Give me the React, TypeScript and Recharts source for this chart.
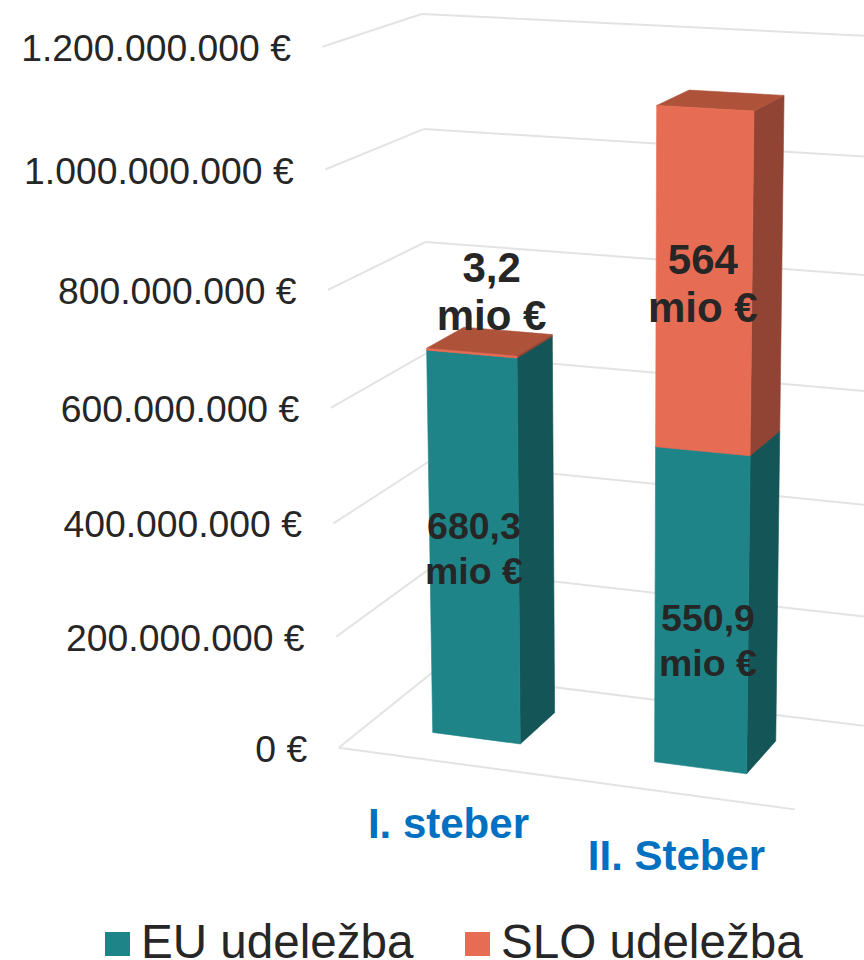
import React from 'react';
import { BarChart, Bar, XAxis, YAxis, CartesianGrid, Legend, LabelList } from 'recharts';

const categories = ['I. steber', 'II. Steber'];
const euValues = [680300000, 550900000];
const sloValues = [3200000, 564000000];
const yTicks = [0, 200000000, 400000000, 600000000, 800000000, 1000000000, 1200000000];
const seriesNames = { eu: 'EU udeležba', slo: 'SLO udeležba' };

const data = categories.map((name, i) => ({ name, eu: euValues[i], slo: sloValues[i] }));

const W = 864, H = 960;
const AXIS_SIZE = 1;
const M = { left: 99, right: 100, top: 100, bottom: 99 };
const PLOT_LEFT = M.left + AXIS_SIZE;
const PW = W - PLOT_LEFT - M.right, PH = H - M.top - M.bottom - AXIS_SIZE;
const FRONT = 0.3, BACK = 0.7;

const toX = (px: number) => (px - PLOT_LEFT) / PW;
const toV = (py: number) => (M.top + PH - py) / PH;

// Perspective of the 3D box: plot fraction (X along categories, V along values, D in depth) to the page
function project(X: number, V: number, D: number) {
  const w = 1 - 0.05 * X - 0.04267 * V + 0.06747 * D;
  return {
    x: (338.7 + 416.6 * X - 30.06 * V + 123.51 * D + 6.6 * X * V) / w,
    y: (747.7 + 21.2 * X - 703 * V - 30.36 * D) / w + 12 * V * (1 - V),
  };
}
const pts = (list: number[][]) =>
  list.map(([X, V, D]) => { const p = project(X, V, D); return `${p.x},${p.y}`; }).join(' ');

const GRID = '#e3e3e3';
const FACES: Record<string, { front: string; side: string; top: string }> = {
  eu: { front: '#1f8488', side: '#145558', top: '#125053' },
  slo: { front: '#e76c54', side: '#924434', top: '#ae5339' },
};

const Box = (series: string) => (props: any) => {
  const { x, y, width, height } = props;
  const X0 = toX(x), X1 = toX(x + width);
  const V1 = toV(y), V0 = toV(y + height);
  const f = FACES[series];
  return (
    <g strokeWidth={0.6} strokeLinejoin="round">
      <polygon fill={f.side} stroke={f.side} points={pts([[X1, V0, FRONT], [X1, V0, BACK], [X1, V1, BACK], [X1, V1, FRONT]])} />
      <polygon fill={f.top} stroke={f.top} points={pts([[X0, V1, FRONT], [X1, V1, FRONT], [X1, V1, BACK], [X0, V1, BACK]])} />
      <polygon fill={f.front} stroke={f.front} points={pts([[X0, V0, FRONT], [X1, V0, FRONT], [X1, V1, FRONT], [X0, V1, FRONT]])} />
    </g>
  );
};

const LABEL_STYLE: Record<string, { size: number; gap: number; shift: number[][] }> = {
  eu: { size: 37.5, gap: 22.5, shift: [[0, -1], [6.5, 28]] },
  slo: { size: 42, gap: 24, shift: [[20, -62], [-1, 0.5]] },
};
const mio = (v: number) => String(Math.round(v / 100000) / 10).replace('.', ',');

const ValueLabel = (series: string) => (props: any) => {
  const { value, index } = props;
  const box = props.viewBox ?? props;
  const { x, y, width, height } = box;
  const c = project(toX(x + width / 2), toV(y + height / 2), FRONT);
  const s = LABEL_STYLE[series];
  const [dx, dy] = s.shift[index ?? 0];
  const common = {
    x: c.x + dx, textAnchor: 'middle' as const, fontFamily: '"Liberation Sans", Arial, sans-serif',
    fontWeight: 700, fontSize: s.size, fill: '#262626',
  };
  const base = c.y + dy + s.size * 0.36;
  return (
    <g>
      <text {...common} y={base - s.gap}>{mio(Number(value))}</text>
      <text {...common} y={base + s.gap}>mio €</text>
    </g>
  );
};

const euro = (v: number) => String(v).replace(/\B(?=(\d{3})+$)/g, '.') + ' €';

const YTick = (props: any) => {
  const V = toV(props.y);
  const p = project(0, V, 0);
  return (
    <text x={p.x - 31.5} y={p.y + 14} textAnchor="end" fontFamily='"Liberation Sans", Arial, sans-serif' fontSize={37.3} fill="#262626">
      {euro(props.payload.value)}
    </text>
  );
};

const XTick = (props: any) => {
  const X = toX(props.x);
  const p = project(X, 0, 0);
  return (
    <text x={p.x} y={p.y + 74 + 4 * X} textAnchor="middle" fontFamily='"Liberation Sans", Arial, sans-serif' fontWeight={700} fontSize={42} fill="#0070c0">
      {props.payload.value}
    </text>
  );
};

const GridLine = (props: any) => {
  const V = toV(props.y1);
  const line = (a: number[], b: number[]) => (
    <polyline points={pts([a, b])} fill="none" stroke={GRID} strokeWidth={2} />
  );
  return (
    <g key={props.key}>
      {line([0, V, 0], [0, V, 1])}
      {line([0, V, 1], [1, V, 1])}
      {Math.abs(V) < 1e-6 ? line([0, V, 0], [1, V, 0]) : null}
    </g>
  );
};

const LEGEND_LEFT = [105, 465];
const LegendBlock = (props: any) => (
  <div style={{ position: 'relative', height: 0 }}>
    {(props.payload ?? []).map((item: any, i: number) => (
      <React.Fragment key={item.value}>
        <div style={{ position: 'absolute', left: LEGEND_LEFT[i], top: 932, width: 25, height: 24, background: item.color }} />
        <div style={{
          position: 'absolute', left: LEGEND_LEFT[i] + 36, top: 918, fontFamily: '"Liberation Sans", Arial, sans-serif',
          fontSize: 47.6, lineHeight: '47px', color: '#262626', whiteSpace: 'nowrap',
        }}>{item.value}</div>
      </React.Fragment>
    ))}
  </div>
);

export default function App() {
  return (
    <div style={{ position: 'absolute', left: 0, top: 0, width: W, height: H, overflow: 'hidden', background: '#fff' }}>
      <BarChart width={W} height={H} data={data} margin={M} barCategoryGap="30%">
        <CartesianGrid vertical={false} horizontal={GridLine as any} />
        <XAxis dataKey="name" height={AXIS_SIZE} axisLine={false} tickLine={false} interval={0} tick={XTick as any} />
        <YAxis width={AXIS_SIZE} domain={[0, 1200000000]} ticks={yTicks} axisLine={false} tickLine={false} interval={0} tick={YTick as any} />
        <Legend
          content={LegendBlock as any}
          wrapperStyle={{ position: 'absolute', left: 0, top: 0, bottom: 'auto', width: W, height: 0 }}
        />
        <Bar dataKey="eu" name={seriesNames.eu} stackId="a" fill={FACES.eu.front} isAnimationActive={false} shape={Box('eu') as any}>
          <LabelList dataKey="eu" content={ValueLabel('eu') as any} />
        </Bar>
        <Bar dataKey="slo" name={seriesNames.slo} stackId="a" fill={FACES.slo.front} isAnimationActive={false} shape={Box('slo') as any}>
          <LabelList dataKey="slo" content={ValueLabel('slo') as any} />
        </Bar>
      </BarChart>
    </div>
  );
}
